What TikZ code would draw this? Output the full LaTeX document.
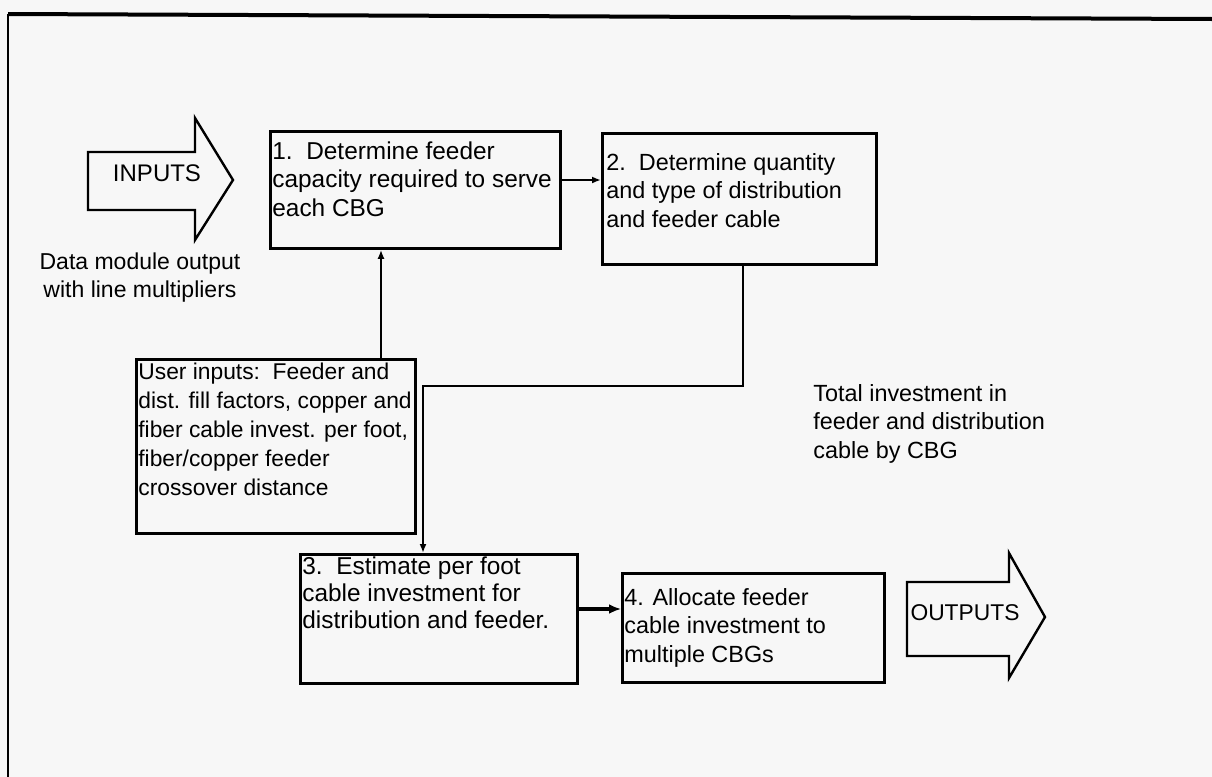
\documentclass[tikz,border=0pt]{standalone}
\usepackage{fontspec}
\setmainfont{Liberation Sans}
\usetikzlibrary{arrows.meta}
\begin{document}
\begin{tikzpicture}[x=0.5pt,y=-0.5pt,
  box/.style={draw, line width=1.4pt, inner sep=0pt, anchor=north west},
  txt/.style={inner sep=0pt, anchor=north west, align=left, font=\fontsize{11.7}{14.2}\selectfont},
  bigtxt/.style={txt, font=\fontsize{12.2}{14.4}\selectfont},
  conn/.style={line width=1pt, -{Latex[length=4.5pt,width=3.5pt]}},
  thickconn/.style={line width=2pt, -{Latex[length=6pt,width=5pt]}},
  bigarrow/.style={draw, line width=1.2pt, line join=miter}]
\useasboundingbox (0,0) rectangle (1212,777);
\fill[white!97!black] (0,0) rectangle (1212,777);
% page frame
\draw[line width=2pt] (8,14) -- (1212,19);
\draw[line width=1pt] (8,14) -- (8,777);
% input arrow
\draw[bigarrow] (88,152) -- (195,152) -- (195,118) -- (233,180) -- (195,240) -- (195,210) -- (88,210) -- cycle;
\node[inner sep=0pt, font=\fontsize{12}{14}\selectfont] (intxt) at (157,173) {INPUTS};
\node[inner sep=0pt, anchor=north, align=center, font=\fontsize{11.5}{14}\selectfont] (data) at (140,252) {Data module output\\with line multipliers};
% boxes
\node[box, minimum width=145pt, minimum height=58.5pt] (b1) at (269,130) {};
\node[bigtxt] (t1) at (272,141) {1.\ \ Determine feeder\\capacity required to serve\\each CBG};
\node[box, minimum width=137pt, minimum height=65.5pt] (b2) at (601,132) {};
\node[txt] (t2) at (606,153) {2.\ \ Determine quantity\\and type of distribution\\and feeder cable};
\node[box, minimum width=139.5pt, minimum height=87pt] (ui) at (135,358) {};
\node[txt, font=\fontsize{11.4}{14.5}\selectfont] (tui) at (138,363) {User inputs:\ \ Feeder and\\dist. fill factors, copper and\\fiber cable invest. per foot,\\fiber/copper feeder\\crossover distance};
\node[box, minimum width=138.5pt, minimum height=64.5pt] (b3) at (299,553) {};
\node[bigtxt, font=\fontsize{12.2}{13.6}\selectfont] (t3) at (302,556) {3.\ \ Estimate per foot\\cable investment for\\distribution and feeder.};
\node[box, minimum width=131pt, minimum height=54.5pt] (b4) at (621,572) {};
\node[txt] (t4) at (624,588) {4. Allocate feeder\\cable investment to\\multiple CBGs};
\node[txt] (total) at (813,384) {Total investment in\\feeder and distribution\\cable by CBG};
% output arrow
\draw[bigarrow] (907,582) -- (1009,582) -- (1009,553) -- (1045,617) -- (1009,678) -- (1009,656) -- (907,656) -- cycle;
\node[inner sep=0pt, font=\fontsize{11.4}{14}\selectfont] (outtxt) at (965,613) {OUTPUTS};
% connectors
\coordinate (p12) at (0,180);
\draw[conn] (b1.east |- p12) -- (b2.west |- p12);
\coordinate (pu) at (381,0);
\draw[conn] (ui.north -| pu) -- (b1.south -| pu);
\coordinate (pv) at (743,386);
\coordinate (ph) at (423,386);
\draw[conn] (b2.south -| pv) -- (pv) -- (ph) -- (b3.north -| ph);
\coordinate (p34) at (0,609);
\draw[thickconn] (b3.east |- p34) -- (b4.west |- p34);
\end{tikzpicture}
\end{document}
